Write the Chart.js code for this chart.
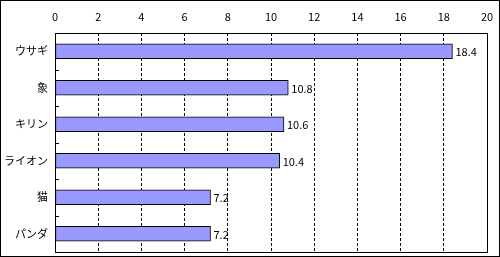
<!DOCTYPE html>
<html>
<head>
<meta charset="utf-8">
<script src="https://cdn.jsdelivr.net/npm/chart.js@4/dist/chart.umd.min.js"></script>
<style>
  body { margin: 0; background: #fff; }
  #wrap { width: 500px; height: 257px; }
</style>
</head>
<body>
<div id="wrap"><canvas id="myChart" width="500" height="257"></canvas></div>
<script>
// data
var animals = ['ウサギ', '象', 'キリン', 'ライオン', '猫', 'パンダ'];
var counts = [18.4, 10.8, 10.6, 10.4, 7.2, 7.2];
var axisMax = 20;
var axisStep = 2;

var FONT = "'Noto Sans CJK JP', 'DejaVu Sans', sans-serif";

// frame, inner ticks and value labels
var extras = {
  id: 'extras',
  afterDatasetsDraw: function(chart) {
    var ctx = chart.ctx;
    var area = chart.chartArea;
    var yScale = chart.scales.y;
    ctx.save();
    ctx.strokeStyle = '#000';
    ctx.lineWidth = 1;
    // plot frame
    ctx.strokeRect(Math.round(area.left) + 0.5, Math.round(area.top) + 0.5,
      Math.round(area.right - area.left), Math.round(area.bottom - area.top));
    // small ticks between categories
    ctx.beginPath();
    for (var i = 1; i < animals.length; i++) {
      var y = Math.round((yScale.getPixelForValue(i - 1) + yScale.getPixelForValue(i)) / 2) + 0.5;
      ctx.moveTo(area.left, y);
      ctx.lineTo(area.left + 4, y);
    }
    ctx.stroke();
    // value labels
    ctx.fillStyle = '#000';
    ctx.font = '11px ' + FONT;
    ctx.textBaseline = 'middle';
    ctx.textAlign = 'left';
    var meta = chart.getDatasetMeta(0);
    meta.data.forEach(function(bar, idx) {
      ctx.fillText(String(counts[idx]), bar.x + 3, bar.y + 1);
    });
    ctx.restore();
  },
  afterDraw: function(chart) {
    var ctx = chart.ctx;
    ctx.save();
    ctx.strokeStyle = '#000';
    ctx.lineWidth = 1;
    ctx.strokeRect(0.5, 0.5, chart.width - 1, chart.height - 1);
    ctx.restore();
  }
};

var ctx = document.getElementById('myChart').getContext('2d');
var myChart = new Chart(ctx, {
  type: 'bar',
  data: {
    labels: animals,
    datasets: [{
      data: counts,
      backgroundColor: '#9999ff',
      borderColor: '#000',
      borderWidth: 1,
      borderSkipped: false,
      barThickness: 15
    }]
  },
  options: {
    indexAxis: 'y',
    responsive: false,
    animation: false,
    layout: { padding: { left: 0, top: 0, right: 13, bottom: 5 } },
    plugins: {
      legend: { display: false },
      tooltip: { enabled: false }
    },
    scales: {
      x: {
        position: 'top',
        min: 0,
        max: axisMax,
        afterFit: function(scale) {
          scale.height = 33;
          scale.paddingLeft = 0;
          scale.paddingRight = 0;
        },
        ticks: {
          stepSize: axisStep,
          color: '#000',
          padding: 10,
          font: { family: FONT, size: 11 }
        },
        grid: {
          color: '#000',
          drawTicks: false
        },
        border: { display: false, dash: [3, 2] }
      },
      y: {
        afterFit: function(scale) {
          scale.width = 55;
          scale.paddingTop = 0;
          scale.paddingBottom = 0;
        },
        ticks: {
          color: '#000',
          padding: 7,
          font: { family: FONT, size: 11 }
        },
        grid: { display: false, drawTicks: false },
        border: { display: false }
      }
    }
  },
  plugins: [extras]
});
</script>
</body>
</html>
